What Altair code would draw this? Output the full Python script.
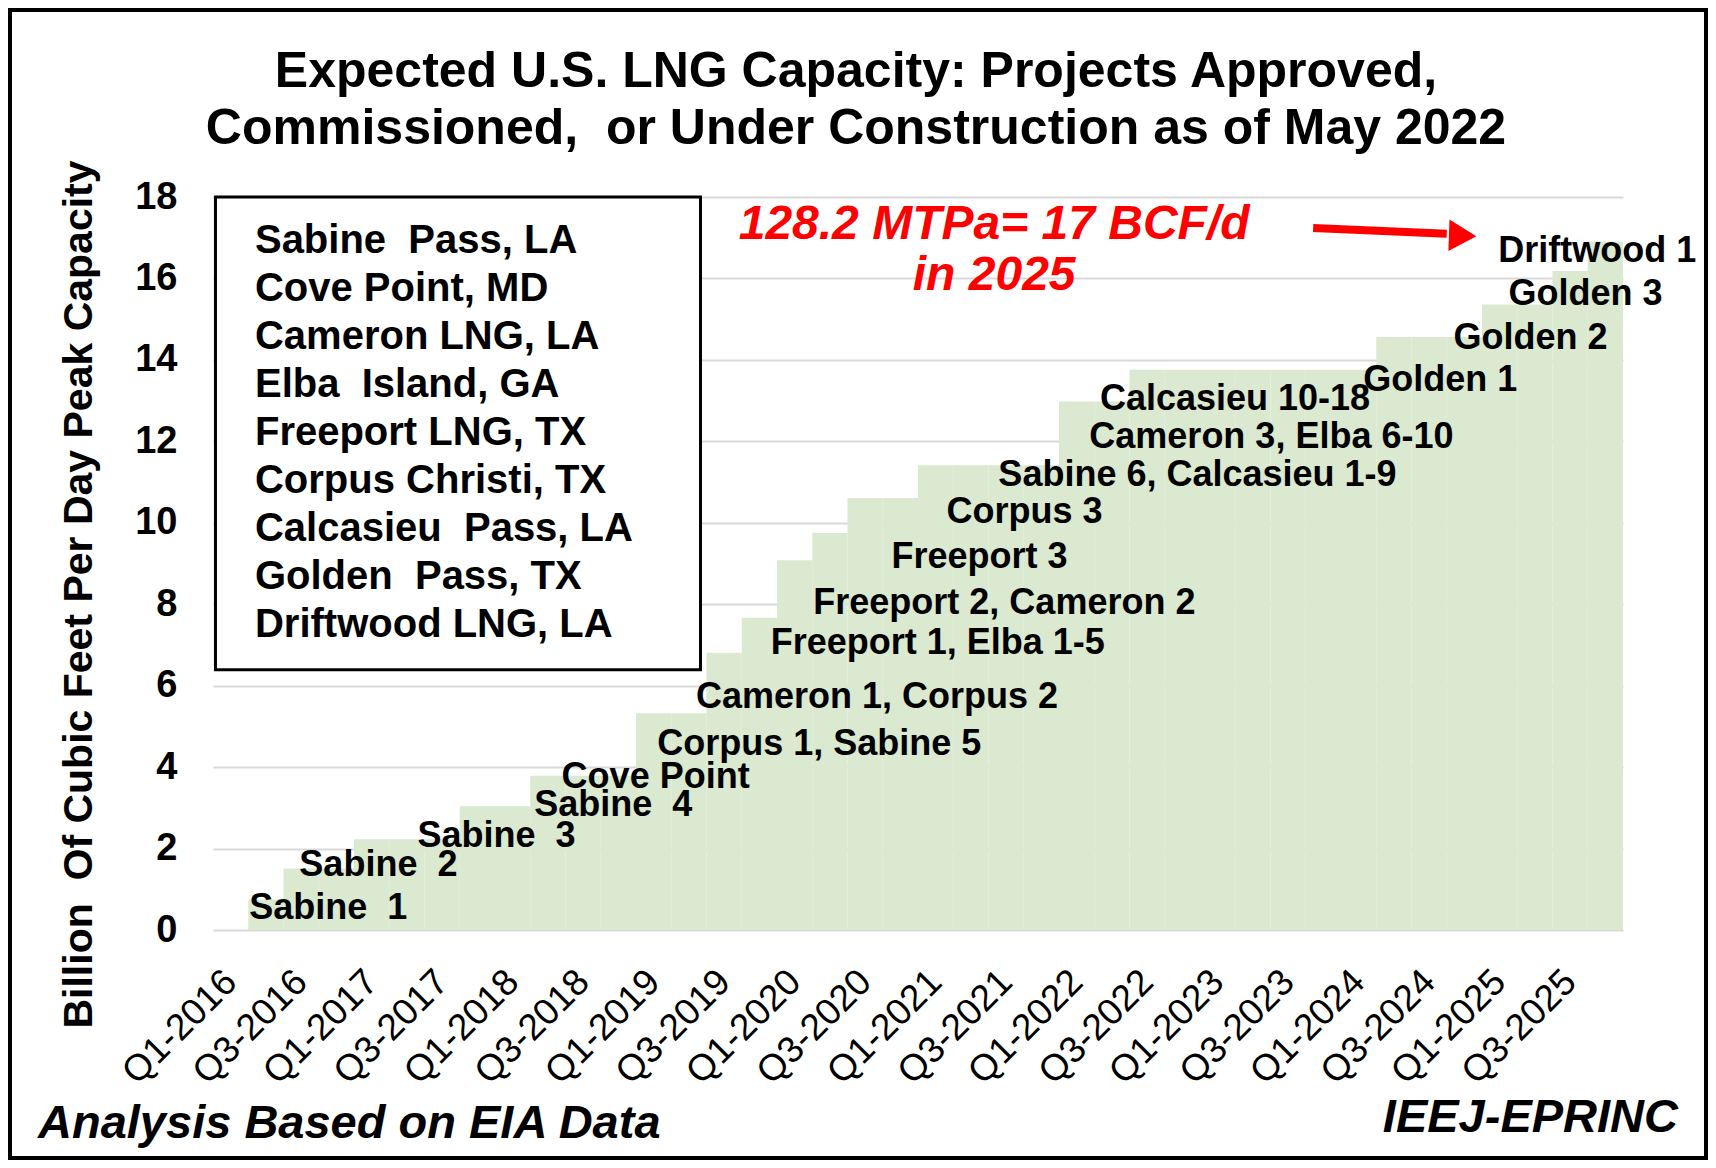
import json
import altair as alt
import pandas as pd

FONT = "Liberation Sans"
NB = "\u00a0"

# ---------------- data ----------------
quarters = [
    "Q1-2016", "Q2-2016", "Q3-2016", "Q4-2016",
    "Q1-2017", "Q2-2017", "Q3-2017", "Q4-2017",
    "Q1-2018", "Q2-2018", "Q3-2018", "Q4-2018",
    "Q1-2019", "Q2-2019", "Q3-2019", "Q4-2019",
    "Q1-2020", "Q2-2020", "Q3-2020", "Q4-2020",
    "Q1-2021", "Q2-2021", "Q3-2021", "Q4-2021",
    "Q1-2022", "Q2-2022", "Q3-2022", "Q4-2022",
    "Q1-2023", "Q2-2023", "Q3-2023", "Q4-2023",
    "Q1-2024", "Q2-2024", "Q3-2024", "Q4-2024",
    "Q1-2025", "Q2-2025", "Q3-2025", "Q4-2025",
]
capacity = [
    0.0, 0.75, 1.51, 1.51,
    2.23, 2.23, 2.23, 3.04,
    3.04, 3.79, 3.79, 3.79,
    5.32, 5.32, 6.81, 7.67,
    9.08, 9.75, 10.61, 10.61,
    11.41, 11.41, 11.41, 11.41,
    12.98, 12.98, 13.76, 13.76,
    13.76, 13.76, 13.76, 13.76,
    13.76, 14.56, 14.56, 14.56,
    15.36, 15.36, 16.18, 16.91,
]
tick_labels = [
    "Q1-2016", "Q3-2016", "Q1-2017", "Q3-2017", "Q1-2018", "Q3-2018",
    "Q1-2019", "Q3-2019", "Q1-2020", "Q3-2020", "Q1-2021", "Q3-2021",
    "Q1-2022", "Q3-2022", "Q1-2023", "Q3-2023", "Q1-2024", "Q3-2024",
    "Q1-2025", "Q3-2025",
]
y_ticks = [0, 2, 4, 6, 8, 10, 12, 14, 16, 18]

# step labels (position in quarter units / BCF/d)
label_text = [
    "Sabine" + NB + " 1", "Sabine" + NB + " 2", "Sabine" + NB + " 3",
    "Sabine" + NB + " 4", "Cove Point",
    "Corpus 1, Sabine 5", "Cameron 1, Corpus 2", "Freeport 1, Elba 1-5",
    "Freeport 2, Cameron 2", "Freeport 3", "Corpus 3",
    "Sabine 6, Calcasieu 1-9", "Cameron 3, Elba 6-10", "Calcasieu 10-18",
    "Golden 1", "Golden 2", "Golden 3", "Driftwood 1",
]
label_x = [1.03, 2.45, 5.80, 9.11, 9.89, 12.60, 13.70, 15.82, 17.03, 19.25,
           20.81, 22.28, 24.86, 25.16, 32.63, 35.19, 36.75, 36.46]
label_y = [0.55, 1.59, 2.32, 3.07, 3.75, 4.56, 5.73, 7.05, 8.03, 9.16,
           10.27, 11.17, 12.11, 13.05, 13.50, 14.54, 15.61, 16.67]

legend_names = [
    "Sabine" + NB + " Pass, LA", "Cove Point, MD", "Cameron LNG, LA",
    "Elba" + NB + " Island, GA", "Freeport LNG, TX", "Corpus Christi, TX",
    "Calcasieu" + NB + " Pass, LA", "Golden" + NB + " Pass, TX",
    "Driftwood LNG, LA",
]
legend_box = {"x0": 0.07, "x1": 13.83, "y0": 18.0, "y1": 6.39}
legend_text_pos = {"x": 1.19, "y": 16.63}

red_text = ["128.2 MTPa= 17 BCF/d", "in 2025"]
red_x = [22.16, 22.16]
red_y = [17.32, 16.05]

arrow = {"x0": 31.21, "y0": 17.24, "x1": 35.0, "y1": 17.10, "hx": 35.45, "hy": 17.05}

title_lines = ["Expected U.S. LNG Capacity: Projects Approved,",
               "Commissioned," + NB + " or Under Construction as of May 2022"]
y_title = "Billion" + NB + " Of Cubic Feet Per Day Peak Capacity"
footer_left = "Analysis Based on EIA Data"
footer_right = "IEEJ-EPRINC"

# ---------------- tables ----------------
bars_df = pd.DataFrame({
    "quarter": quarters,
    "start": list(range(len(quarters))),
    "end": [i + 1 for i in range(len(quarters))],
    "value": capacity,
    "base": [0] * len(quarters),
})
labels_df = pd.DataFrame({"x": label_x, "y": label_y, "text": label_text})
legend_df = pd.DataFrame({"x": [legend_text_pos["x"]], "y": [legend_text_pos["y"]],
                          "text": ["\n".join(legend_names)]})
box_df = pd.DataFrame({"x": [legend_box["x0"]], "x2": [legend_box["x1"]],
                       "y": [legend_box["y0"]], "y2": [legend_box["y1"]]})
red_df = pd.DataFrame({"x": red_x, "y": red_y, "text": red_text})
shaft_df = pd.DataFrame({"x": [arrow["x0"]], "x2": [arrow["x1"]],
                         "y": [arrow["y0"]], "y2": [arrow["y1"]]})
head_df = pd.DataFrame({"x": [arrow["hx"]], "y": [arrow["hy"]]})

tick_vals = [0.5 + 2 * k for k in range(len(tick_labels))]
label_expr = json.dumps(tick_labels) + "[floor(datum.value / 2)]"

W, H = 1410, 733


def X(field):
    return alt.X(
        field + ":Q",
        scale=alt.Scale(domain=[0, 40], nice=False, zero=False),
        axis=alt.Axis(
            values=tick_vals, labelExpr=label_expr, labelAngle=-45,
            labelAlign="right", labelBaseline="middle", labelFontSize=37,
            labelFont=FONT, labelColor="black", labelPadding=46,
            ticks=False, tickSize=0, domain=False, grid=False, title="",
            labelOverlap=False, labelFlush=False,
        ),
    )


def Y(field):
    return alt.Y(
        field + ":Q",
        scale=alt.Scale(domain=[0, 18], nice=False, zero=True),
        axis=alt.Axis(
            values=y_ticks, labelFontSize=38, labelFontWeight="bold",
            labelFont=FONT, labelColor="black", labelPadding=36,
            ticks=False, domain=False, grid=True, gridColor="#d9d9d9",
            gridWidth=2, title=y_title, titleFontSize=41, titleFont=FONT,
            titleFontWeight="bold", titleColor="black", titleX=-134,
            titleY=397, titleAngle=-90, titleAlign="center",
            titleBaseline="middle",
        ),
    )


bars = alt.Chart(bars_df).mark_rect(color="#dae9cf").encode(
    x=X("start"), x2="end:Q", y=Y("value"), y2="base:Q"
)

step_labels = alt.Chart(labels_df).mark_text(
    align="left", baseline="middle", font=FONT, fontSize=36,
    fontWeight="bold", color="black"
).encode(x=X("x"), y=Y("y"), text="text:N")

box = alt.Chart(box_df).mark_rect(
    fill="white", stroke="black", strokeWidth=3
).encode(x=X("x"), x2="x2:Q", y=Y("y"), y2="y2:Q")

legend_text = alt.Chart(legend_df).mark_text(
    align="left", baseline="alphabetic", font=FONT, fontSize=40,
    fontWeight="bold", color="black", lineBreak="\n", lineHeight=48
).encode(x=X("x"), y=Y("y"), text="text:N")

red = alt.Chart(red_df).mark_text(
    align="center", baseline="middle", font=FONT, fontSize=48,
    fontWeight="bold", fontStyle="italic", color="#ff0000"
).encode(x=X("x"), y=Y("y"), text="text:N")

shaft = alt.Chart(shaft_df).mark_rule(color="#ff0000", strokeWidth=8).encode(
    x=X("x"), x2="x2:Q", y=Y("y"), y2="y2:Q"
)
head = alt.Chart(head_df).mark_point(
    shape="triangle-right", size=1000, filled=True, color="#ff0000",
    opacity=1, angle=2
).encode(x=X("x"), y=Y("y"))

title_mark = alt.Chart(pd.DataFrame({"t": ["\n".join(title_lines)]})).mark_text(
    align="center", baseline="alphabetic", font=FONT, fontSize=50,
    fontWeight="bold", color="black", lineBreak="\n", lineHeight=57
).encode(x=alt.value(643), y=alt.value(-110), text="t:N")

foot_l = alt.Chart(pd.DataFrame({"t": [footer_left]})).mark_text(
    align="left", baseline="middle", font=FONT, fontSize=47,
    fontWeight="bold", fontStyle="italic", color="black"
).encode(x=alt.value(-175), y=alt.value(927), text="t:N")

foot_r = alt.Chart(pd.DataFrame({"t": [footer_right]})).mark_text(
    align="right", baseline="middle", font=FONT, fontSize=47,
    fontWeight="bold", fontStyle="italic", color="black"
).encode(x=alt.value(1465), y=alt.value(921), text="t:N")

frame = alt.Chart(pd.DataFrame({"f": [1]})).mark_rect(
    fill="white", fillOpacity=0, stroke="black", strokeWidth=4
).encode(x=alt.value(-203), x2=alt.value(1493), y=alt.value(-187), y2=alt.value(961))

chart = alt.layer(
    bars, box, legend_text, step_labels, red, shaft, head,
    title_mark, foot_l, foot_r, frame
).properties(
    width=W, height=H,
    autosize=alt.AutoSizeParams(type="none"),
    padding={"left": 205, "top": 189, "right": 85, "bottom": 230},
    background="white",
).configure_view(strokeWidth=0)

chart.save("out.html", embed_options={"renderer": "svg", "actions": False})
